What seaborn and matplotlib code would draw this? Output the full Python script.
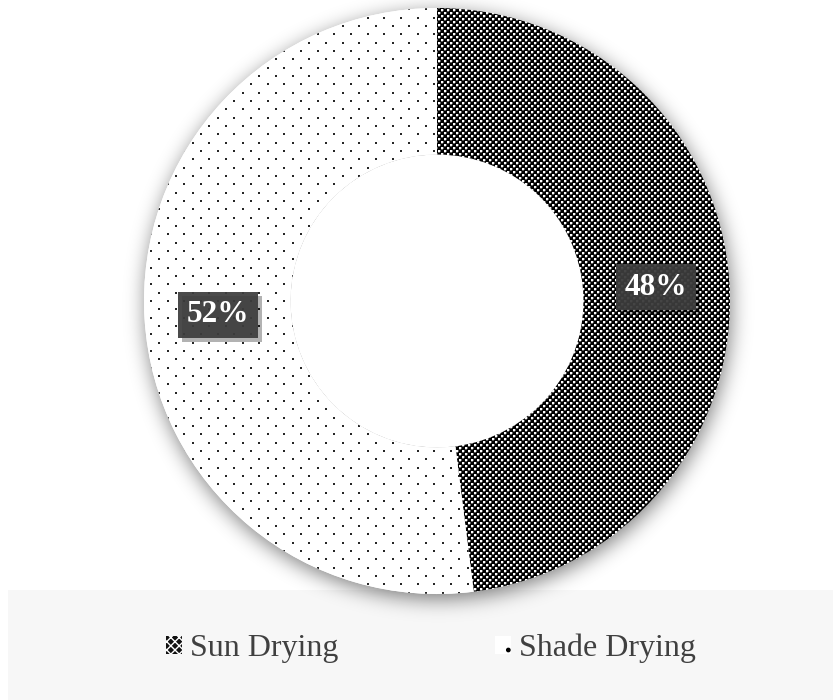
import numpy as np
import matplotlib
matplotlib.use("Agg")
import matplotlib.pyplot as plt
import seaborn as sns
from matplotlib.patches import Patch, Rectangle, Circle
from matplotlib import patheffects as pe

# ---- data -------------------------------------------------------------
categories = ["Sun Drying", "Shade Drying"]
shares = [48, 52]
share_labels = ["48%", "52%"]

# ---- style ------------------------------------------------------------
sns.set_style("white")
plt.rcParams["font.family"] = ["Liberation Serif", "DejaVu Serif"]
plt.rcParams["hatch.linewidth"] = 1.0

W, H, DPI = 833, 700, 100
CX, CY, R = 437, 301, 293          # ring centre / outer radius in pixels
TEXT = "#404040"

fig = plt.figure(figsize=(W / DPI, H / DPI), dpi=DPI)
fig.patch.set_facecolor("white")
ax = fig.add_axes([0, 0, 1, 1])
xlim = (-CX / R, (W - CX) / R)
ylim = (-(H - CY) / R, CY / R)

# light band behind the legend
ax.add_patch(Rectangle((8 / W, 0), 1 - 8 / W, (H - 590) / H,
                       transform=fig.transFigure, facecolor="#f7f7f7",
                       edgecolor="none", zorder=0))

# pixel grid in data coordinates (one image pixel per figure pixel)
jj, ii = np.meshgrid(np.arange(W), np.arange(H))
xd = xlim[0] + (jj + 0.5) / R
yd = ylim[1] - (ii + 0.5) / R

# soft drop shadow under the ring
def blur(a, sigma):
    k = np.arange(-int(3 * sigma), int(3 * sigma) + 1)
    g = np.exp(-k ** 2 / (2 * sigma ** 2))
    g /= g.sum()
    a = np.apply_along_axis(lambda v: np.convolve(v, g, mode="same"), 1, a)
    a = np.apply_along_axis(lambda v: np.convolve(v, g, mode="same"), 0, a)
    return a

disk = (np.hypot(xd - 1.5 / R, yd + 5 / R) <= 1.0).astype(float)
shadow = blur(disk, 10.0)
rgba = np.zeros((H, W, 4))
rgba[..., 3] = 0.5 * shadow
ax.imshow(rgba, extent=(*xlim, *ylim), origin="upper", aspect="auto",
          interpolation="nearest", zorder=1)
ax.add_patch(Circle((0, 0), 0.5, facecolor="white", edgecolor="none", zorder=1.5))

# ---- donut ------------------------------------------------------------
wedges, _ = ax.pie(shares, startangle=90, counterclock=False, radius=1.0,
                   colors=["white", "white"],
                   wedgeprops=dict(width=0.5, linewidth=0, zorder=2))

# fill textures: dark checker of small white squares, and sparse staggered dots
tile = np.zeros((6, 6))
tile[0:2, 0:2] = 1
tile[3:5, 3:5] = 1
tile[2, 0:2] = tile[0:2, 2] = 0.35
tile[5, 3:5] = tile[3:5, 5] = 0.35
dark = np.tile(tile, (H // 6 + 1, W // 6 + 1))[:H, :W]

light = np.ones((H, W))
row_step, col_step = 25 / 3, 50 / 3
for k in range(int(H / row_step) + 2):
    y = int(round(k * row_step))
    off = (k % 2) * col_step / 2
    for m in range(int(W / col_step) + 2):
        x = int(round(m * col_step + off))
        light[y:y + 2, x:x + 2] = 0.15

for wedge, tex in zip(wedges, [dark, light]):
    im = ax.imshow(tex, cmap="gray", vmin=0, vmax=1, extent=(*xlim, *ylim),
                   origin="upper", aspect="auto", interpolation="nearest",
                   zorder=2.5)
    im.set_clip_path(wedge)

# value labels in boxed callouts at the middle of each segment
for wedge, lab in zip(wedges, share_labels):
    mid = np.deg2rad((wedge.theta1 + wedge.theta2) / 2)
    t = ax.text(0.75 * np.cos(mid), 0.75 * np.sin(mid), lab,
                ha="center", va="center", fontsize=22.5, fontweight="bold",
                color="white", zorder=5,
                bbox=dict(boxstyle="square,pad=0.28", facecolor="#3d3d3d",
                          edgecolor="none", alpha=0.93))
    t.get_bbox_patch().set_path_effects(
        [pe.SimplePatchShadow(offset=(3, -3), shadow_rgbFace="black", alpha=0.3),
         pe.Normal()])

ax.set_xlim(*xlim)
ax.set_ylim(*ylim)
ax.set_aspect("auto")
ax.set_axis_off()

# ---- legend -----------------------------------------------------------
handles = [
    Patch(facecolor="#111111", edgecolor="white", hatch="xxxx", linewidth=0,
          label=categories[0]),
    Patch(facecolor="white", edgecolor="black", hatch=".", linewidth=0,
          label=categories[1]),
]
fig.legend(handles=handles, ncol=2, loc="center", bbox_to_anchor=(0.517, 0.074),
           frameon=False, fontsize=23, handlelength=0.5, handleheight=0.5,
           handletextpad=0.25, columnspacing=4.9, labelcolor=TEXT)

fig.savefig("out.png", dpi=DPI, facecolor="white")
